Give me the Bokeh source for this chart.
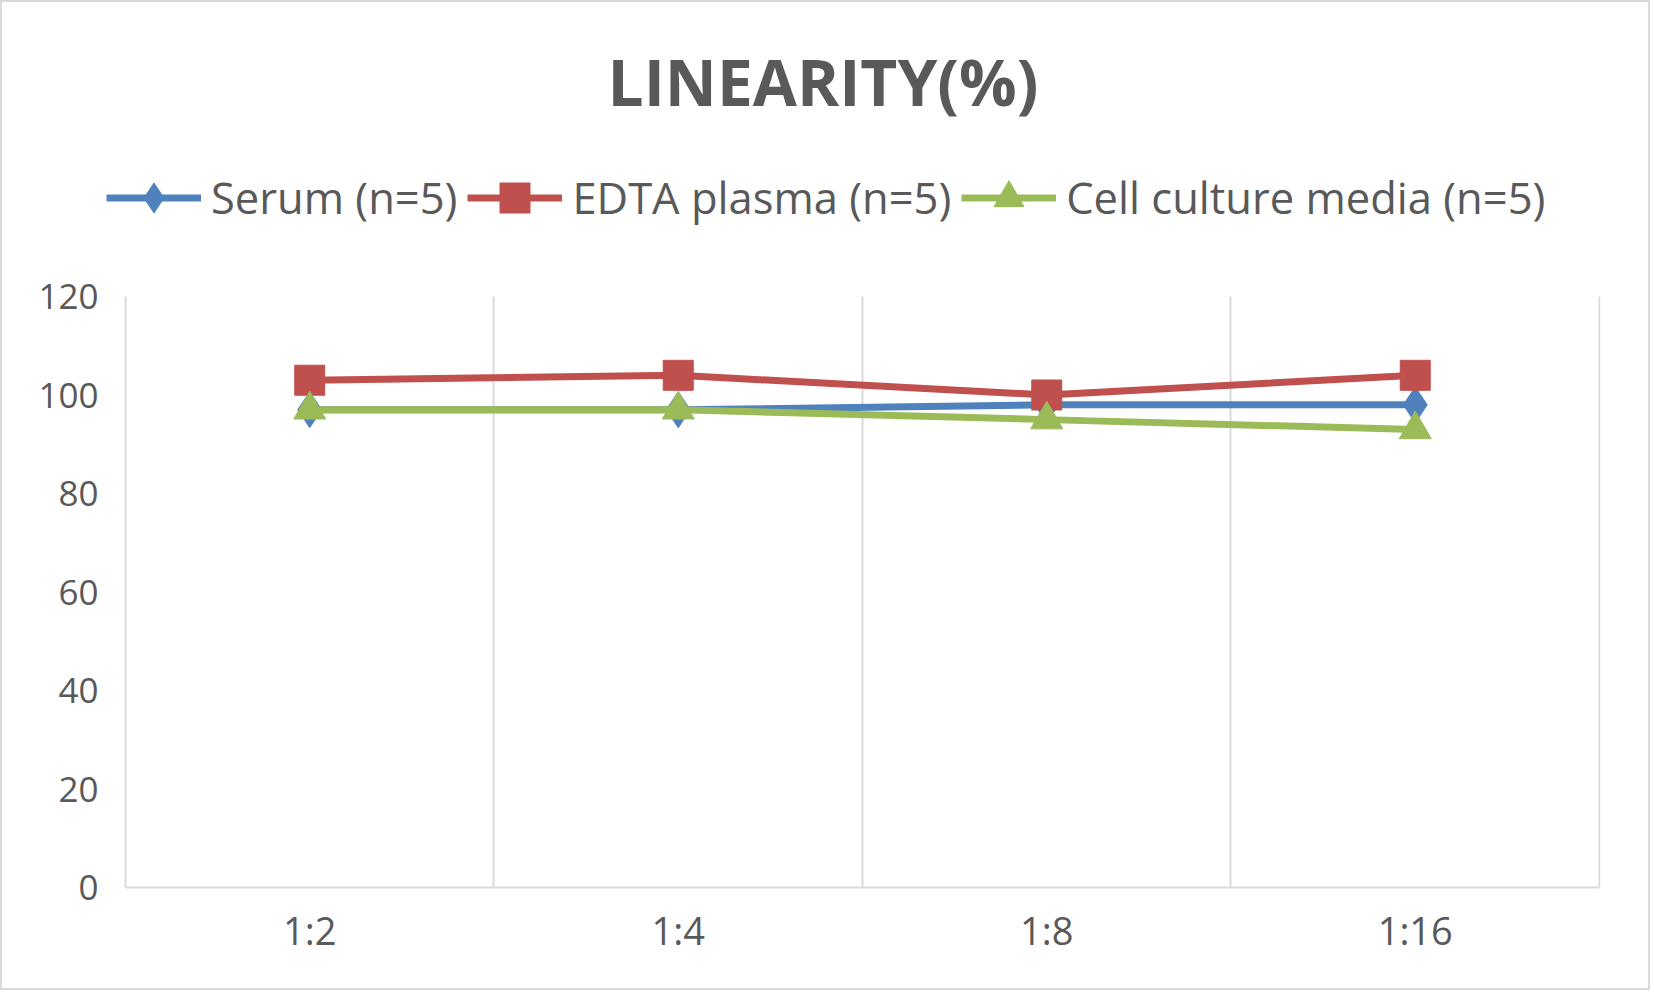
from bokeh.plotting import figure
from bokeh.models import FixedTicker, Legend, LegendItem, Range1d, Title
from bokeh.embed import file_html
from bokeh.resources import INLINE

categories = ["1:2", "1:4", "1:8", "1:16"]
serum = [97, 97, 98, 98]
edta = [103, 104, 100, 104]
ccm = [97, 97, 95, 93]
y_ticks = [0, 20, 40, 60, 80, 100, 120]
y_max = 120
series_names = ["Serum (n=5)", "EDTA plasma (n=5)", "Cell culture media (n=5)"]
chart_title = "LINEARITY(%)"

xs = [i + 0.5 for i in range(len(categories))]
n = len(categories)

FONT = "Open Sans"
TXT = "#595959"
GRID = "#d9d9d9"

# layout geometry (pixels)
W, H = 1650, 990
frame_left, frame_right, frame_top, frame_bottom = 104, 1598, 130, 885
axis_left_px, axis_top_px = 123, 294
px_per_cat = (frame_right - axis_left_px) / n
px_per_unit = (frame_bottom - axis_top_px) / y_max
x_start = -(axis_left_px - frame_left) / px_per_cat
x_end = n + 1.0 / px_per_cat
y_end = (frame_bottom - frame_top) / px_per_unit

p = figure(width=W, height=H, output_backend="svg", toolbar_location=None,
           x_range=Range1d(x_start, x_end), y_range=Range1d(0, y_end),
           min_border_left=frame_left, min_border_right=W - frame_right,
           min_border_top=frame_top, min_border_bottom=H - frame_bottom,
           title_location=None)
p.styles = {"border": "2px solid #d9d9d9"}
p.outline_line_color = None
p.background_fill_color = "white"
p.border_fill_color = "white"

# axes
p.xaxis.ticker = FixedTicker(ticks=xs)
p.xaxis.bounds = (0, n)
p.xaxis.major_label_overrides = {x: c for x, c in zip(xs, categories)}
p.xaxis.axis_line_color = GRID
p.xaxis.axis_line_width = 2
p.xaxis.major_tick_line_color = None
p.xaxis.minor_tick_line_color = None
p.xaxis.major_label_text_font = FONT
p.xaxis.major_label_text_font_size = "38px"
p.xaxis.major_label_text_color = TXT
p.xaxis.major_label_standoff = 10

p.yaxis.ticker = FixedTicker(ticks=y_ticks)
p.yaxis.axis_line_color = None
p.yaxis.major_tick_line_color = None
p.yaxis.minor_tick_line_color = None
p.yaxis.major_label_text_font = FONT
p.yaxis.major_label_text_font_size = "35px"
p.yaxis.major_label_text_color = TXT
p.yaxis.major_label_standoff = 2

p.ygrid.grid_line_color = None
p.xgrid.ticker = FixedTicker(ticks=list(range(n + 1)))
p.xgrid.cross_bounds = (0, y_max)
p.xgrid.grid_line_color = GRID
p.xgrid.grid_line_width = 2

colors = ["#4F81BD", "#C0504D", "#9BBB59"]
markers = ["diamond", "square", "triangle"]
sizes = [36, 30, 32]
items = []
for vals, col, mk, sz, name in zip([serum, edta, ccm], colors, markers, sizes, series_names):
    ln = p.line(xs, vals, line_color=col, line_width=7)
    sc = p.scatter(xs, vals, marker=mk, size=sz, fill_color=col, line_color=col)
    items.append(LegendItem(label=name, renderers=[ln, sc]))

legend_h = 75
legend_center_y = 195
legend = Legend(items=items, orientation="horizontal",
                location=(0, frame_bottom - legend_center_y - legend_h / 2))
legend.border_line_color = None
legend.background_fill_alpha = 0
legend.padding = 0
legend.margin = 0
legend.spacing = 10
legend.label_standoff = 10
legend.glyph_width = 95
legend.glyph_height = legend_h
legend.label_height = legend_h
legend.label_text_font = FONT
legend.label_text_font_size = "43.5px"
legend.label_text_color = TXT
p.add_layout(legend, "center")

title = Title(text=chart_title, text_font=FONT, text_font_size="64px",
              text_font_style="bold", text_color=TXT, align="left",
              offset=515 - (frame_left - 90), standoff=15)
p.add_layout(title, "above")

open("out.html", "w").write(file_html(p, INLINE))
